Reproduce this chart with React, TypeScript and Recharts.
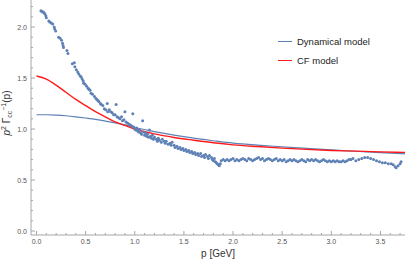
import { ComposedChart, Scatter, Line, XAxis, YAxis } from "recharts";

// lattice points: [p, p^2 / Gamma_cc(p)]
const latticePoints: [number, number][] = [
  [0.045, 2.16], [0.055, 2.15], [0.065, 2.15], [0.075, 2.14], [0.085, 2.13], [0.095, 2.11], [0.1, 2.09],
  [0.125, 2.06], [0.135, 2.05], [0.15, 2.04], [0.165, 2.03], [0.18, 2.0], [0.185, 1.98], [0.195, 1.96],
  [0.225, 1.9], [0.24, 1.89], [0.255, 1.87], [0.265, 1.84], [0.27, 1.82], [0.275, 1.8], [0.31, 1.77],
  [0.32, 1.74], [0.365, 1.64], [0.385, 1.65], [0.39, 1.61], [0.405, 1.58], [0.42, 1.56], [0.43, 1.54],
  [0.445, 1.52], [0.455, 1.51], [0.465, 1.49], [0.475, 1.47], [0.48, 1.45], [0.495, 1.44], [0.51, 1.42],
  [0.525, 1.4], [0.535, 1.39], [0.545, 1.38], [0.555, 1.35], [0.57, 1.34], [0.59, 1.32], [0.605, 1.3],
  [0.615, 1.29], [0.625, 1.28], [0.635, 1.27], [0.65, 1.25], [0.66, 1.24], [0.675, 1.23], [0.69, 1.2],
  [0.705, 1.19], [0.72, 1.25], [0.725, 1.17], [0.74, 1.19], [0.755, 1.17], [0.77, 1.16], [0.785, 1.14],
  [0.8, 1.14], [0.81, 1.24], [0.82, 1.12], [0.835, 1.11], [0.85, 1.1], [0.865, 1.12], [0.875, 1.08],
  [0.89, 1.09], [0.9, 1.17], [0.91, 1.07], [0.925, 1.06], [0.94, 1.05], [0.955, 1.04], [0.97, 1.03],
  [0.98, 1.15], [0.99, 1.02], [1.0, 1.0],
  [1.01, 0.99], [1.02, 1.01], [1.03, 0.98], [1.04, 0.97], [1.05, 0.99], [1.06, 0.96], [1.07, 0.95],
  [1.08, 1.08], [1.09, 0.97], [1.1, 0.94], [1.11, 0.96], [1.12, 0.93], [1.13, 0.95], [1.14, 0.92],
  [1.15, 0.99], [1.16, 0.93], [1.17, 0.91], [1.18, 0.94], [1.19, 0.9], [1.2, 0.92], [1.22, 0.9],
  [1.23, 0.88], [1.24, 0.91], [1.25, 0.89], [1.27, 0.87], [1.28, 0.9], [1.3, 0.88], [1.31, 0.86],
  [1.32, 0.88], [1.34, 0.85], [1.36, 0.86], [1.37, 0.84], [1.38, 0.87], [1.4, 0.84], [1.41, 0.82],
  [1.43, 0.83], [1.44, 0.81], [1.46, 0.82], [1.47, 0.8], [1.49, 0.81], [1.5, 0.79], [1.52, 0.8],
  [1.53, 0.78], [1.55, 0.79], [1.56, 0.77], [1.58, 0.78], [1.59, 0.76], [1.61, 0.77], [1.62, 0.75],
  [1.64, 0.76], [1.65, 0.74], [1.67, 0.76], [1.68, 0.73], [1.7, 0.74], [1.71, 0.72], [1.72, 0.75],
  [1.74, 0.73], [1.75, 0.71], [1.76, 0.74], [1.78, 0.72], [1.79, 0.7], [1.8, 0.69], [1.81, 0.71],
  [1.82, 0.68], [1.83, 0.67], [1.84, 0.66], [1.85, 0.65], [1.86, 0.64], [1.87, 0.66], [1.88, 0.69],
  [1.9, 0.7], [1.92, 0.69], [1.94, 0.7], [1.96, 0.69], [1.98, 0.7], [2.0, 0.71], [2.02, 0.69],
  [2.04, 0.7], [2.06, 0.69], [2.08, 0.7], [2.1, 0.71], [2.12, 0.7], [2.14, 0.69], [2.16, 0.71],
  [2.18, 0.7], [2.2, 0.69], [2.22, 0.7], [2.24, 0.71], [2.26, 0.72], [2.28, 0.7], [2.3, 0.71],
  [2.32, 0.69], [2.34, 0.7], [2.36, 0.71], [2.38, 0.7], [2.4, 0.69], [2.42, 0.7], [2.44, 0.71],
  [2.46, 0.69], [2.48, 0.7], [2.5, 0.69], [2.52, 0.7], [2.54, 0.68], [2.56, 0.69], [2.58, 0.7],
  [2.6, 0.69], [2.62, 0.7], [2.64, 0.69], [2.66, 0.68], [2.68, 0.69], [2.7, 0.7], [2.72, 0.69],
  [2.74, 0.68], [2.76, 0.7], [2.78, 0.69], [2.8, 0.7], [2.82, 0.69], [2.84, 0.7], [2.86, 0.69],
  [2.88, 0.68], [2.9, 0.69], [2.92, 0.7], [2.94, 0.69], [2.96, 0.68], [2.98, 0.69], [3.0, 0.68],
  [3.02, 0.69], [3.04, 0.68], [3.06, 0.69], [3.08, 0.68], [3.1, 0.68], [3.12, 0.69], [3.14, 0.68],
  [3.16, 0.69], [3.18, 0.7], [3.2, 0.7], [3.22, 0.71], [3.25, 0.69], [3.28, 0.7], [3.31, 0.71],
  [3.34, 0.72], [3.37, 0.72], [3.4, 0.71], [3.43, 0.7], [3.46, 0.69], [3.49, 0.68], [3.52, 0.67],
  [3.55, 0.67], [3.58, 0.66], [3.61, 0.66], [3.63, 0.65], [3.65, 0.63], [3.66, 0.62], [3.68, 0.64],
  [3.7, 0.66], [3.71, 0.68],
];

const curveP = [0, 0.1, 0.2, 0.3, 0.4, 0.5, 0.6, 0.7, 0.8, 0.9, 1.0, 1.2, 1.4, 1.6, 1.8, 2.0, 2.25, 2.5, 2.75, 3.0, 3.25, 3.5, 3.78];
const dynamicalModel = [1.14, 1.14, 1.137, 1.13, 1.12, 1.108, 1.095, 1.078, 1.06, 1.04, 1.015, 0.975, 0.94, 0.91, 0.885, 0.862, 0.842, 0.826, 0.81, 0.795, 0.782, 0.768, 0.755];
const cfModel = [1.52, 1.49, 1.43, 1.36, 1.29, 1.23, 1.17, 1.12, 1.07, 1.035, 1.0, 0.952, 0.917, 0.89, 0.865, 0.845, 0.828, 0.813, 0.8, 0.79, 0.783, 0.776, 0.77];

const xTicks = [0, 0.1, 0.2, 0.3, 0.4, 0.5, 0.6, 0.7, 0.8, 0.9, 1.0, 1.1, 1.2, 1.3, 1.4, 1.5, 1.6, 1.7, 1.8, 1.9, 2.0, 2.1, 2.2, 2.3, 2.4, 2.5, 2.6, 2.7, 2.8, 2.9, 3.0, 3.1, 3.2, 3.3, 3.4, 3.5, 3.6, 3.7];
const xLabels = [0, 0.5, 1.0, 1.5, 2.0, 2.5, 3.0, 3.5];
const yTicks = [0, 0.1, 0.2, 0.3, 0.4, 0.5, 0.6, 0.7, 0.8, 0.9, 1.0, 1.1, 1.2, 1.3, 1.4, 1.5, 1.6, 1.7, 1.8, 1.9, 2.0, 2.1, 2.2];
const yLabels = [0, 0.5, 1.0, 1.5, 2.0];

const BLUE = "#5E81B5";
const RED = "#FF1A1A";
const AXIS = "#A6A6A6";
const TEXT = "#555555";

const scatterData = latticePoints.map(([p, v]) => ({ p, v }));
const dynData = curveP.map((p, i) => ({ p, v: dynamicalModel[i] }));
const cfData = curveP.map((p, i) => ({ p, v: cfModel[i] }));

const isLabel = (list: number[], v: number) => list.some((l) => Math.abs(l - v) < 1e-6);

function XTick({ x, y, payload }: any) {
  const axisY = y - 4;
  const major = isLabel(xLabels, payload.value);
  return (
    <g>
      <line x1={x} x2={x} y1={axisY} y2={axisY - (major ? 4 : 2)} stroke={AXIS} />
      {major && (
        <text x={x} y={y} dy="0.71em" textAnchor="middle" fontSize={7} fill={TEXT}>
          {payload.value.toFixed(1)}
        </text>
      )}
    </g>
  );
}

function YTick({ x, y, payload }: any) {
  const axisX = x + 4;
  const major = isLabel(yLabels, payload.value);
  return (
    <g>
      <line x1={axisX} x2={axisX + (major ? 4 : 2)} y1={y} y2={y} stroke={AXIS} />
      {major && (
        <text x={x} y={y} dy="0.355em" textAnchor="end" fontSize={7} fill={TEXT}>
          {payload.value.toFixed(1)}
        </text>
      )}
    </g>
  );
}

function YLabel() {
  return (
    <text transform="translate(10,113) rotate(-90)" textAnchor="middle" fontSize={10} fill="#333">
      <tspan fontStyle="italic">p</tspan>
      <tspan dy={-4} fontSize={7}>2</tspan>
      <tspan dy={4}> Γ</tspan>
      <tspan dy={2} fontSize={7}>cc</tspan>
      <tspan dy={-6} fontSize={7}>−1</tspan>
      <tspan dy={4}>(p)</tspan>
    </text>
  );
}

const Dot = (props: any) => <circle cx={props.cx} cy={props.cy} r={1.5} fill={BLUE} />;

export default function App() {
  return (
    <div style={{ position: "absolute", left: 0, top: 0, width: 410, height: 262, fontFamily: "'Liberation Sans', Arial, sans-serif" }}>
      <ComposedChart width={410} height={262} margin={{ top: 0, right: 5, bottom: 0, left: 0 }}>
        <XAxis
          type="number"
          dataKey="p"
          domain={[-0.056, 3.75]}
          ticks={xTicks}
          allowDataOverflow
          height={27}
          stroke={AXIS}
          tickLine={false}
          tickSize={0}
          tickMargin={4}
          tick={<XTick />}
          interval={0}
          label={{ value: "p [GeV]", position: "insideBottom", offset: 5, fontSize: 10, fill: "#333" }}
        />
        <YAxis
          type="number"
          dataKey="v"
          domain={[-0.039, 2.265]}
          ticks={yTicks}
          allowDataOverflow
          width={31}
          stroke={AXIS}
          tickLine={false}
          tickSize={0}
          tickMargin={4}
          tick={<YTick />}
          interval={0}
          label={{ content: () => <YLabel /> }}
        />
        <Scatter data={scatterData} dataKey="v" shape={<Dot />} isAnimationActive={false} />
        <Line data={dynData} dataKey="v" type="monotone" stroke={BLUE} strokeWidth={1.2} dot={false} isAnimationActive={false} />
        <Line data={cfData} dataKey="v" type="monotone" stroke={RED} strokeWidth={1.4} dot={false} isAnimationActive={false} />
      </ComposedChart>
      <div style={{ position: "absolute", left: 278, top: 32, fontSize: 9.5, color: "#222", lineHeight: "19px" }}>
        <div style={{ display: "flex", alignItems: "center" }}>
          <span style={{ display: "inline-block", width: 14, height: 0, borderTop: `1.3px solid ${BLUE}`, marginRight: 5 }} />
          Dynamical model
        </div>
        <div style={{ display: "flex", alignItems: "center" }}>
          <span style={{ display: "inline-block", width: 14, height: 0, borderTop: `1.3px solid ${RED}`, marginRight: 5 }} />
          CF model
        </div>
      </div>
    </div>
  );
}
